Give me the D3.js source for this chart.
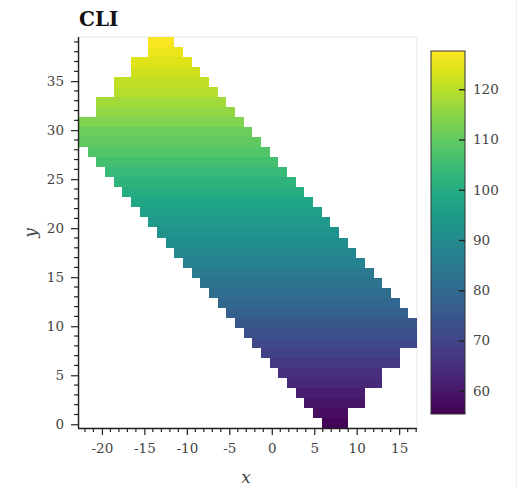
<!DOCTYPE html>
<html lang="en">
<head>
<meta charset="UTF-8">
<title>CLI</title>
<script src="https://d3js.org/d3.v7.min.js"></script>
<style>
    body { margin: 0; background: #fff; }
    svg { font-family: "DejaVu Serif", serif; }
    .tick text { fill: #444; font-size: 13.5px; }
</style>
</head>
<body>
<svg id="chart" width="526" height="486"></svg>
<script>
// grid: 39 x 39 cells, bottom-left corner and cell size in data units
const gridX0 = -22.7, gridY0 = -0.38, cellW = 1.0205, cellH = 1.0226;

// one entry per row, bottom (row 0) to top (row 38)
const rowStartCol = [28,27,26,25,24,23,22,21,20,19,18,17,16,15,14,13,12,11,10,9,8,7,6,5,4,3,2,1,0,0,0,2,2,4,4,6,6,8,8];
const rowEndCol   = [30,30,32,32,34,34,36,36,38,38,38,37,36,35,34,33,32,31,30,29,28,27,26,25,24,23,22,21,20,19,18,17,16,15,14,13,12,11,10];
const rowValue    = [56,58,59.5,61.5,63.5,65.5,67,69,71,73,75,77,79,81,83,85,87,88.5,90.5,92.5,94.5,96.5,98,100,102,104,106,108,110,111.5,113.5,115.5,117.5,119.5,121,122.5,124,125.5,127];

const xTicks = [-20,-15,-10,-5,0,5,10,15];
const yTicks = [0,5,10,15,20,25,30,35];
const cbTicks = [60,70,80,90,100,110,120];
const cbDomain = [55.4, 127.6];

const svg = d3.select("#chart");
const plot = {left: 79, right: 417, top: 37, bottom: 428};

let x = d3.scaleLinear().domain([gridX0, gridX0 + 39 * cellW]).range([plot.left, plot.right]);
let y = d3.scaleLinear().domain([gridY0, gridY0 + 39 * cellH]).range([plot.bottom, plot.top]);
let color = d3.scaleSequential(d3.interpolateViridis).domain(cbDomain);

// outer border line on the right
svg.append("line").attr("x1", 516.5).attr("x2", 516.5).attr("y1", 0).attr("y2", 486)
    .attr("stroke", "#ececec");

// frame
svg.append("rect")
    .attr("x", plot.left).attr("y", plot.top)
    .attr("width", plot.right - plot.left).attr("height", plot.bottom - plot.top)
    .attr("fill", "#fff").attr("stroke", "#e8e8e8");

// cells (one rect per row)
let rows = rowValue.map((v, i) => ({row: i, start: rowStartCol[i], end: rowEndCol[i], value: v}));
svg.append("g").attr("shape-rendering", "crispEdges").selectAll("rect")
    .data(rows)
    .enter().append("rect")
    .attr("x", d => Math.round(x(gridX0 + d.start * cellW)))
    .attr("width", d => Math.round(x(gridX0 + (d.end + 1) * cellW)) - Math.round(x(gridX0 + d.start * cellW)))
    .attr("y", d => Math.round(y(gridY0 + (d.row + 1) * cellH)))
    .attr("height", d => Math.round(y(gridY0 + d.row * cellH)) - Math.round(y(gridY0 + (d.row + 1) * cellH)))
    .attr("fill", d => color(d.value));

// minor ticks
let xMinor = d3.range(-22, 18).filter(v => v % 5 != 0);
let yMinor = d3.range(0, 40).filter(v => v % 5 != 0);
let minor = svg.append("g").attr("stroke", "#222").attr("stroke-width", 1.2);
minor.selectAll(".xm").data(xMinor).enter().append("line")
    .attr("x1", d => x(d)).attr("x2", d => x(d))
    .attr("y1", plot.bottom).attr("y2", plot.bottom + 4);
minor.selectAll(".ym").data(yMinor).enter().append("line")
    .attr("y1", d => y(d)).attr("y2", d => y(d))
    .attr("x1", plot.left - 1).attr("x2", plot.left - 5);

// axes
let fmt = d => String(d);
let xAxis = svg.append("g")
    .attr("transform", `translate(0,${plot.bottom})`)
    .call(d3.axisBottom(x).tickValues(xTicks).tickFormat(fmt).tickSize(7).tickPadding(8));
let yAxis = svg.append("g")
    .attr("transform", `translate(${plot.left - 1},0)`)
    .call(d3.axisLeft(y).tickValues(yTicks).tickFormat(fmt).tickSize(7).tickPadding(7));
[xAxis, yAxis].forEach(a => {
    a.select(".domain").attr("stroke", "#222").attr("stroke-width", 1.4);
    a.selectAll(".tick line").attr("stroke", "#222").attr("stroke-width", 1.2);
    a.attr("font-family", null).attr("font-size", null);
});
xAxis.select(".domain").attr("d", `M${plot.left - 1},0.5H${plot.right}`);
yAxis.select(".domain").attr("d", `M0.5,${plot.bottom}V${plot.top}`);

// titles
svg.append("text").attr("x", plot.left).attr("y", 26)
    .attr("font-weight", "bold").attr("font-size", 20).attr("fill", "#111")
    .text("CLI");
svg.append("text").attr("x", 246).attr("y", 483)
    .attr("text-anchor", "middle").attr("font-style", "italic").attr("font-size", 17).attr("fill", "#444")
    .text("x");
svg.append("text").attr("transform", "translate(36,233) rotate(-90)")
    .attr("text-anchor", "middle").attr("font-style", "italic").attr("font-size", 17).attr("fill", "#444")
    .text("y");

// colorbar
const cb = {left: 431, right: 465, top: 51, bottom: 414};
let cbScale = d3.scaleLinear().domain(cbDomain).range([cb.bottom, cb.top]);
let grad = svg.append("defs").append("linearGradient")
    .attr("id", "cbgrad").attr("x1", 0).attr("x2", 0).attr("y1", 1).attr("y2", 0);
grad.selectAll("stop").data(d3.range(0, 1.0001, 0.05)).enter().append("stop")
    .attr("offset", d => d)
    .attr("stop-color", d => d3.interpolateViridis(d));
svg.append("rect")
    .attr("x", cb.left).attr("y", cb.top)
    .attr("width", cb.right - cb.left).attr("height", cb.bottom - cb.top)
    .attr("fill", "url(#cbgrad)").attr("stroke", "#333").attr("stroke-width", 1);
let cbAxis = svg.append("g")
    .attr("transform", `translate(${cb.right},0)`)
    .call(d3.axisRight(cbScale).tickValues(cbTicks).tickSize(0).tickPadding(8));
cbAxis.select(".domain").remove();
cbAxis.attr("font-family", null).attr("font-size", null);
cbAxis.selectAll(".tick").append("line")
    .attr("x1", -6).attr("x2", 0).attr("stroke", "#222").attr("stroke-width", 1.4);
</script>
</body>
</html>
